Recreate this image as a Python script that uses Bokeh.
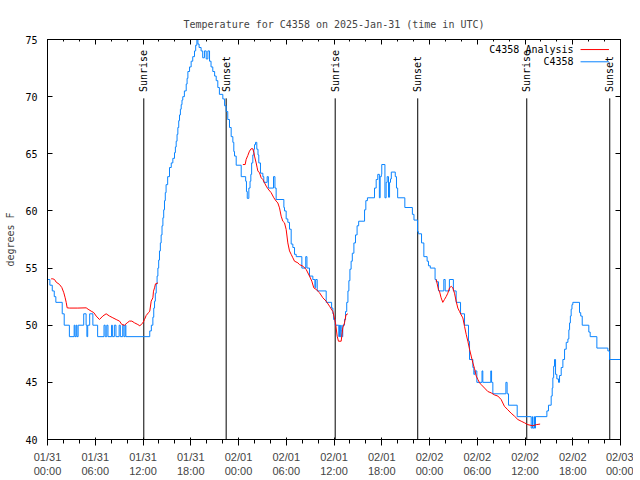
import math
from bokeh.plotting import figure
from bokeh.models import FixedTicker, LinearAxis, Range1d, Label, Arrow
from bokeh.core.properties import value
from bokeh.embed import file_html
from bokeh.resources import INLINE

FONT = "DejaVu Sans Mono"
BLUE = "#0a84ff"
RED = "#ff0000"

# ---------------- data (hours since 2025-01-31 00:00 UTC, degrees F) ----------------
blue_t = [0, 0.3, 0.6, 0.85, 1.05, 1.85, 2.1, 2.75, 3.35, 3.45, 3.6, 3.7, 3.85, 4.55, 4.85,
          4.95, 5.05, 5.3, 5.7, 6.3, 7.1, 7.25, 7.45, 7.6, 8.05, 8.15, 8.4, 8.6, 9.0, 9.15,
          9.45, 9.6, 9.75, 9.85,
          12.85, 13.05, 13.24, 13.35, 13.45, 13.55, 13.66, 13.77, 13.87, 13.97, 14.07, 14.18,
          14.28, 14.39, 14.5, 14.6, 14.7, 14.8, 14.9, 15.1, 15.33, 15.55, 15.75, 15.96, 16.07,
          16.17, 16.28, 16.38, 16.49, 16.59, 16.7, 16.8, 16.9, 17.0, 17.2, 17.43, 17.54, 17.64,
          17.85, 18.05, 18.25, 18.47, 18.62, 18.77, 18.9, 19.05, 19.3, 19.5, 19.72, 19.94,
          20.15, 20.36, 20.55, 20.77, 21.0, 21.2, 21.4, 21.6, 22.03, 22.25, 22.45, 22.65,
          22.87, 23.08, 23.29, 23.41, 23.5, 23.71, 24.34, 24.9, 25.0, 25.1, 25.3, 25.45,
          25.55, 25.65, 25.8, 25.93, 26.01, 26.14, 26.3, 26.45, 26.55, 26.76, 27.06, 27.18,
          27.6, 27.75, 28.4, 28.58, 28.73, 29.7, 29.78, 29.99, 30.2, 30.41, 30.62, 30.83,
          31.04, 31.25, 31.96, 32.45, 32.6, 32.92, 33.34, 33.6, 33.7, 33.89, 35.02, 35.7,
          35.86, 35.95, 36.15, 36.6, 36.7, 36.75, 36.85, 36.9, 37.0, 37.1, 37.32, 37.45,
          37.6, 37.75, 37.87, 38.0, 38.15, 38.3, 38.5, 38.7, 38.9, 39.1, 39.84, 40.0, 40.2,
          41.09, 41.3, 41.5, 41.7, 41.8, 41.95, 42.0, 42.4, 42.55, 42.68, 42.85, 42.98,
          43.1, 43.2, 43.7, 43.85, 44.0, 44.9, 45.85, 46.05, 46.5, 46.6, 47.0, 47.29, 47.7,
          47.87, 48.1, 48.7, 48.85, 49.13, 49.8, 49.97, 50.5, 51.0, 51.35, 51.9, 52.4, 52.9,
          53.03, 53.45, 53.57, 53.7, 53.95, 54.6, 54.7, 55.7, 55.8, 55.96, 57.6, 57.75,
          57.93, 59.02, 60.78, 60.95, 61.0, 61.2, 61.25, 61.32, 62.75, 62.95, 63.29, 63.42,
          63.5, 63.6, 63.71, 63.84, 64.0, 64.21, 64.34, 64.55, 64.76, 64.97, 65.18, 65.39,
          65.51, 65.6, 65.7, 65.8, 65.9, 66.01, 66.85, 67.0, 67.19, 68.02, 68.19, 69.03,
          70.41, 70.62, 72.0]
blue_temp = [54, 53.5, 53, 52.5, 52, 51, 50, 49, 50, 49, 50, 49, 50, 51, 50,
             49, 50, 51, 50, 49, 50, 49, 50, 49, 50, 49, 50, 49, 50, 49,
             50, 49, 50, 49,
             49.5, 50, 50.7, 51.5, 52.1, 52.8, 53.6, 54.3, 55, 55.7, 56.5, 57.2,
             57.9, 58.7, 59.4, 60.1, 60.9, 61.6, 62.3, 63, 63.8, 64.2, 64.6, 65.1, 65.6,
             66.1, 66.7, 67.3, 67.9, 68.4, 68.9, 69.3, 69.7, 70, 70.5, 71.1, 71.6, 72.2,
             72.6, 73.1, 73.5, 74, 74.5, 75, 74.6, 74.3, 74, 73.4, 74, 73.3,
             74, 73.1, 72.6, 72.2, 71.8, 71.4, 70.8, 70.2, 69.8, 69.2, 68.7, 68,
             67.3, 66.5, 66, 65.2, 64.8, 64, 63, 62.6, 61.7, 61.1, 62, 62.6,
             63.2, 64.2, 64.9, 65.4, 65.8, 66, 65.4, 64.9, 64.2, 63.3, 63, 62.5,
             63, 62, 63, 62, 61, 60.3, 60, 59.3, 59, 58.4, 57.1, 56.8,
             56.2, 56, 55, 56, 55, 54.3, 54, 53.3, 54, 53, 52, 51.5,
             51, 50.5, 50, 49, 50, 49, 50, 49.5, 49, 50, 50.5, 51.2,
             52, 53, 53.9, 54.9, 55.6, 56.3, 57.2, 57.9, 58.7, 59.1, 60.1, 60.9, 61.15,
             62, 62.75, 63.2, 61.15, 63, 63.2, 64.06, 61.15, 62.5, 63, 61.2, 62.5,
             62.8, 63.4, 63, 62, 61.15, 60.3, 59.7, 59.2, 58.2, 58, 57.2, 56, 55.6,
             55.2, 55, 54, 53.8, 53, 54, 53, 54, 53, 52, 51, 50, 48.6,
             47, 46.3, 45.7, 46, 45, 46, 45, 46, 45, 44, 45, 44,
             43, 42, 41, 42, 41, 42, 41, 42, 42.5, 43, 43.8, 44.5,
             45.4, 46.4, 47, 45.7, 45.3, 45, 45.6, 46.3, 47, 47.9, 48.5, 48.8,
             49.6, 50.2, 50.8, 51.4, 51.8, 52, 51.1, 50.8, 50, 49.4, 49, 48,
             47.75, 47, 47]

red1_t = [0.46, 0.67, 0.88, 1.09, 1.5, 1.8, 2.05, 2.22, 2.35, 2.47, 2.76, 3.81, 4.86, 5.1,
          5.49, 5.82, 6.12, 6.53, 6.95, 7.37, 7.79, 8.21, 8.63, 9.05, 9.34, 9.68, 10.01,
          10.3, 10.6, 10.93, 11.35, 11.6, 11.98, 12.19, 12.4, 12.69, 12.85, 13.03, 13.24,
          13.32, 13.45, 13.57, 13.87]
red1_temp = [54.06, 54.06, 54.0, 53.77, 53.57, 53.3, 52.84, 52.4, 52.0, 51.52, 51.5, 51.5,
             51.52, 51.4, 51.23, 51.1, 50.8, 50.5, 50.8, 51.0, 50.8, 50.65, 50.5, 50.36,
             50.06, 50.0, 50.21, 50.36, 50.36, 50.21, 50.06, 49.95, 50.2, 50.5, 50.85, 51.1,
             51.23, 52.1, 52.4, 52.98, 53.27, 53.62, 53.7]

red2_t = [24.55, 24.84, 24.96, 25.17, 25.38, 25.59, 25.8, 25.93, 26.01, 26.22, 26.35, 26.43,
          26.64, 26.85, 27.06, 27.27, 27.48, 27.69, 28.1, 28.44, 28.73, 28.94, 29.15, 29.36,
          29.57, 29.78, 29.99, 30.2, 30.41, 30.62, 30.83, 31.04, 31.46, 31.67, 32.09, 32.5,
          32.92, 33.21, 33.46, 33.76, 34.18, 34.6, 35.02, 35.44, 35.86, 36.19, 36.4, 36.56,
          36.9, 37.1, 37.32, 37.5, 37.74]
red2_temp = [64.06, 64.06, 64.5, 64.85, 65.23, 65.44, 65.44, 65.1, 64.8, 64.2, 63.77, 63.5,
             63.33, 62.9, 62.75, 62.46, 62.17, 61.94, 61.6, 61.15, 60.86, 60.7, 60.27, 59.54,
             59.1, 58.96, 58.38, 57.2, 56.5, 56.2, 55.9, 55.6, 55.46, 55.3, 55.17, 54.88,
             54.3, 53.86, 53.27, 53.13, 52.84, 52.4, 52.1, 51.66, 51.2, 50.2, 49.04, 48.6,
             48.6, 49.77, 50.2, 50.9, 51.0]

red3_t = [48.85, 49.13, 49.25, 49.46, 49.67, 49.88, 50.09, 50.3, 50.52, 50.73, 50.93, 51.14,
          51.35, 51.56, 51.77, 51.98, 52.19, 52.4, 52.61, 52.82, 53.03, 53.24, 53.45, 53.66,
          53.87, 54.08, 54.29, 54.5, 54.92, 55.33, 55.75, 56.17, 56.59, 57.0, 57.42, 57.84,
          58.26, 58.68, 59.1, 59.52, 59.94, 60.36, 60.99, 61.41, 61.9]
red3_temp = [54.0, 53.1, 52.98, 52.4, 52.0, 52.25, 52.5, 52.8, 53.27, 53.4, 53.27, 52.8,
             52.1, 51.5, 51.2, 50.9, 50.64, 49.9, 49.2, 48.6, 47.9, 47.3, 46.7, 46.2,
             45.55, 45.25, 44.96, 44.8, 44.5, 44.2, 44.08, 43.9, 43.8, 43.5, 42.9, 42.6,
             42.3, 42.04, 41.75, 41.6, 41.46, 41.3, 41.2, 41.3, 41.35]

event_hours = [12.1, 22.45, 36.15, 46.52, 60.22, 70.65]
event_names = ["Sunrise", "Sunset", "Sunrise", "Sunset", "Sunrise", "Sunset"]

tick_hours = [0, 6, 12, 18, 24, 30, 36, 42, 48, 54, 60, 66, 72]
tick_days = ["01/31", "01/31", "01/31", "01/31", "02/01", "02/01", "02/01", "02/01",
             "02/02", "02/02", "02/02", "02/02", "02/03"]
tick_clock = ["00:00", "06:00", "12:00", "18:00", "00:00", "06:00", "12:00", "18:00",
              "00:00", "06:00", "12:00", "18:00", "00:00"]
minor_hours = list(range(0, 73, 2))
y_ticks = [40, 45, 50, 55, 60, 65, 70, 75]

TITLE = "Temperature for C4358 on 2025-Jan-31 (time in UTC)"
LEGEND_ANALYSIS = "C4358 Analysis"
LEGEND_OBS = "C4358"

# ---------------- figure ----------------
p = figure(frame_width=573, frame_height=400, output_backend="svg", toolbar_location=None,
           x_range=Range1d(0, 72), y_range=Range1d(40, 75),
           min_border_left=47, min_border_right=13, min_border_top=39, min_border_bottom=34,
           background_fill_color="white", border_fill_color="white")
p.xgrid.visible = False
p.ygrid.visible = False
p.outline_line_color = "black"
p.outline_line_width = 1

p.title.text = TITLE
p.title.align = "center"
p.title.text_font = FONT
p.title.text_font_size = "10px"
p.title.text_font_style = "normal"
p.title.standoff = 20

xticker = FixedTicker(ticks=tick_hours, minor_ticks=minor_hours)
yticker = FixedTicker(ticks=y_ticks, minor_ticks=[])

p.xaxis.ticker = xticker
p.yaxis.ticker = yticker
p.xaxis.major_label_overrides = {h: f"{d}\n{c}" for h, d, c in zip(tick_hours, tick_days, tick_clock)}
p.yaxis.axis_label = "degrees F"

top_axis = LinearAxis(ticker=xticker)
right_axis = LinearAxis(ticker=yticker)
p.add_layout(top_axis, "above")
p.add_layout(right_axis, "right")

for ax in [p.xaxis[0], p.yaxis[0], top_axis, right_axis]:
    ax.major_tick_in = 5
    ax.major_tick_out = 0
    ax.minor_tick_in = 2
    ax.minor_tick_out = 0
    ax.axis_line_color = "black"
    ax.major_tick_line_color = "black"
    ax.minor_tick_line_color = "black"
    ax.major_label_text_font = FONT
    ax.major_label_text_font_size = "10px"
    ax.major_label_text_color = "black"

# mirror axes: ticks only, blank labels
top_axis.major_label_overrides = {h: "" for h in tick_hours}
right_axis.major_label_overrides = {v: "" for v in y_ticks}
top_axis.major_label_standoff = 0
right_axis.major_label_standoff = 0

p.xaxis[0].major_label_standoff = 3
p.xaxis[0].major_label_text_line_height = 1.05
p.yaxis[0].major_label_standoff = 10
p.yaxis[0].axis_label_text_font = FONT
p.yaxis[0].axis_label_text_font_size = "10px"
p.yaxis[0].axis_label_text_font_style = "normal"
p.yaxis[0].axis_label_standoff = 6

# sunrise / sunset markers
p.segment(x0=event_hours, y0=[40] * len(event_hours), x1=event_hours,
          y1=[69.85] * len(event_hours), line_color="black", line_width=1)
p.text(x=event_hours, y=[70.4] * len(event_hours), text=event_names, angle=math.pi / 2,
       text_align="left", text_baseline="middle", text_font=value(FONT),
       text_font_size="10px", text_color="black")

# data
p.step(x=blue_t, y=blue_temp, mode="after", line_color=BLUE, line_width=1)
for t, v in [(red1_t, red1_temp), (red2_t, red2_temp), (red3_t, red3_temp)]:
    p.line(x=t, y=v, line_color=RED, line_width=1)

# legend (gnuplot style: text then sample line)
for label, color, ly in [(LEGEND_ANALYSIS, RED, 74.12), (LEGEND_OBS, BLUE, 73.05)]:
    p.add_layout(Label(x=66.1, y=ly, text=label, text_align="right", text_baseline="middle",
                       text_font=FONT, text_font_size="10px", text_color="black"))
    p.add_layout(Arrow(x_start=66.98, y_start=ly, x_end=70.55, y_end=ly, end=None,
                       line_color=color, line_width=1))

open("out.html", "w").write(file_html(p, INLINE))
